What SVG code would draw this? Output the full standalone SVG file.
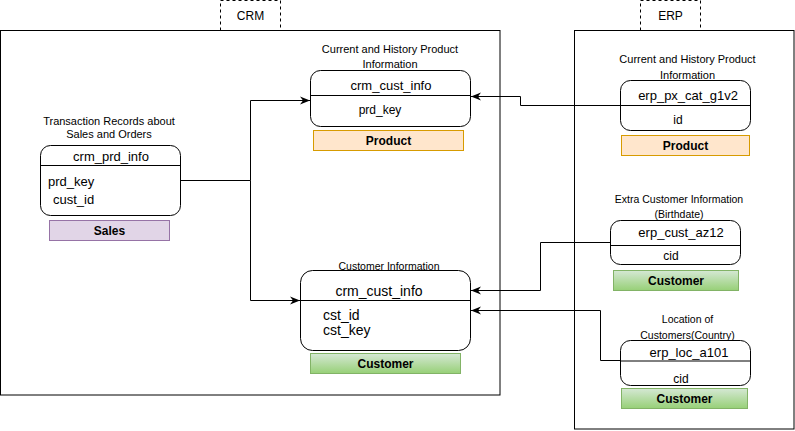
<svg xmlns="http://www.w3.org/2000/svg" width="795" height="431" viewBox="0 0 795 431">
<style>
text{font-family:"Liberation Sans",Arial,sans-serif;fill:#000}
.lbl{font-size:11px;text-anchor:middle}
.lbs{font-size:10.5px;text-anchor:middle}
.ttl{font-size:13px;text-anchor:middle}
.fld{font-size:13px}
.fs{font-size:12px}
.tag{font-size:12px;font-weight:bold;text-anchor:middle}
.tab{font-size:12px;text-anchor:middle}
.node{fill:#fff;stroke:#000;stroke-width:1}
.div{stroke:#000;stroke-width:1}
.cont{fill:#fff;stroke:#000;stroke-width:1}
.dash{fill:#fff;stroke:#000;stroke-width:1;stroke-dasharray:3 3}
.prod{fill:#ffe6cc;stroke:#d79b00;stroke-width:1}
.sales{fill:#e1d5e7;stroke:#9673a6;stroke-width:1}
.cust{fill:url(#g);stroke:#82b366;stroke-width:1}
.edge{fill:none;stroke:#000;stroke-width:1;marker-end:url(#arr)}
</style>
<defs>
<linearGradient id="g" x1="0" y1="0" x2="0" y2="1">
<stop offset="0" stop-color="#d5e8d4"/>
<stop offset="1" stop-color="#97d077"/>
</linearGradient>
<marker id="arr" markerUnits="userSpaceOnUse" markerWidth="11" markerHeight="10" refX="10" refY="5" orient="auto">
<path d="M0,1 L10,5 L0,9 L3,5 Z" fill="#000"/>
</marker>
</defs>
<rect width="795" height="431" fill="#fff"/>

<g id="crm">
<rect class="dash" x="220.5" y="0.5" width="60" height="30"/>
<text class="tab" x="250.5" y="20">CRM</text>
<rect class="cont" x="0.5" y="30.5" width="499.5" height="364.5"/>
</g>
<g id="erp">
<rect class="dash" x="640.5" y="0.5" width="60" height="30"/>
<text class="tab" x="670.5" y="20">ERP</text>
<rect class="cont" x="574.5" y="30.5" width="219.5" height="398.5"/>
</g>

<g id="crm_prd_info">
<text class="lbl" x="109" y="125">Transaction Records about</text>
<text class="lbl" x="109" y="137.5">Sales and Orders</text>
<rect class="node" x="40.5" y="145.5" width="140" height="70" rx="10"/>
<line class="div" x1="40.5" y1="165.5" x2="180.5" y2="165.5"/>
<text class="ttl" x="111" y="160.5">crm_prd_info</text>
<text class="fld" x="48" y="186">prd_key</text>
<text class="fld" x="53" y="204">cust_id</text>
<rect class="sales" x="49.5" y="220.5" width="120" height="20"/>
<text class="tag" x="109.5" y="234.5">Sales</text>
</g>

<g id="crm_cust_info_product">
<text class="lbl" x="390" y="53">Current and History Product</text>
<text class="lbl" x="390" y="68">Information</text>
<rect class="node" x="310.5" y="70.5" width="160" height="56" rx="10"/>
<line class="div" x1="310.5" y1="95.5" x2="470.5" y2="95.5"/>
<text class="ttl" x="391" y="90">crm_cust_info</text>
<text class="fs" x="380" y="114" text-anchor="middle">prd_key</text>
<rect class="prod" x="313.5" y="130.5" width="150" height="20"/>
<text class="tag" x="388.5" y="144.5">Product</text>
</g>

<g id="crm_cust_info_customer">
<text class="lbs" x="389" y="270">Customer Information</text>
<rect class="node" x="300.5" y="270.5" width="170" height="80" rx="12" fill-opacity="0"/>
<line class="div" x1="300.5" y1="300.5" x2="470.5" y2="300.5"/>
<text class="ttl" x="379" y="296" style="font-size:14px">crm_cust_info</text>
<text class="fld" x="323" y="320" style="font-size:14px">cst_id</text>
<text class="fld" x="323" y="335" style="font-size:14px">cst_key</text>
<rect class="cust" x="310.5" y="353.5" width="150" height="20"/>
<text class="tag" x="385.5" y="367.5">Customer</text>
</g>

<g id="erp_px_cat_g1v2">
<text class="lbl" x="687.5" y="63">Current and History Product</text>
<text class="lbl" x="687.5" y="78.5">Information</text>
<rect class="node" x="620.5" y="80.5" width="130" height="50" rx="10"/>
<line class="div" x1="620.5" y1="105.5" x2="750.5" y2="105.5"/>
<text class="ttl" x="688" y="100">erp_px_cat_g1v2</text>
<text class="fs" x="678" y="124" text-anchor="middle">id</text>
<rect class="prod" x="621.5" y="135.5" width="128" height="20"/>
<text class="tag" x="685.5" y="149.5">Product</text>
</g>

<g id="erp_cust_az12">
<text class="lbs" x="679" y="203">Extra Customer Information</text>
<text class="lbs" x="679" y="217.5">(Birthdate)</text>
<rect class="node" x="610.5" y="220.5" width="130" height="44" rx="10"/>
<line class="div" x1="610.5" y1="245.5" x2="740.5" y2="245.5"/>
<text class="ttl" x="681" y="236.5">erp_cust_az12</text>
<text class="fs" x="671" y="260" text-anchor="middle">cid</text>
<rect class="cust" x="613.5" y="270.5" width="125" height="20"/>
<text class="tag" x="676" y="284.5">Customer</text>
</g>

<g id="erp_loc_a101">
<text class="lbs" x="687.5" y="323">Location of</text>
<text class="lbs" x="687.5" y="338.5">Customers(Country)</text>
<rect class="node" x="620.5" y="340.5" width="130" height="45" rx="10"/>
<line class="div" x1="620.5" y1="361" x2="750.5" y2="361"/>
<text class="ttl" x="689" y="356.5">erp_loc_a101</text>
<text class="fs" x="681" y="383" text-anchor="middle">cid</text>
<rect class="cust" x="621.5" y="388.5" width="126" height="20"/>
<text class="tag" x="684.5" y="402.5">Customer</text>
</g>

<g id="connectors">
<path class="edge" d="M180.5,180.5 H250.5 V100.5 H310"/>
<path class="edge" d="M250.5,180.5 V300.5 H300"/>
<path class="edge" d="M620.5,105.5 H520.5 V96.5 H471"/>
<path class="edge" d="M610.5,242.5 H540.5 V290.5 H471"/>
<path class="edge" d="M620.5,360.5 H600.5 V310.5 H471"/>
</g>
</svg>
